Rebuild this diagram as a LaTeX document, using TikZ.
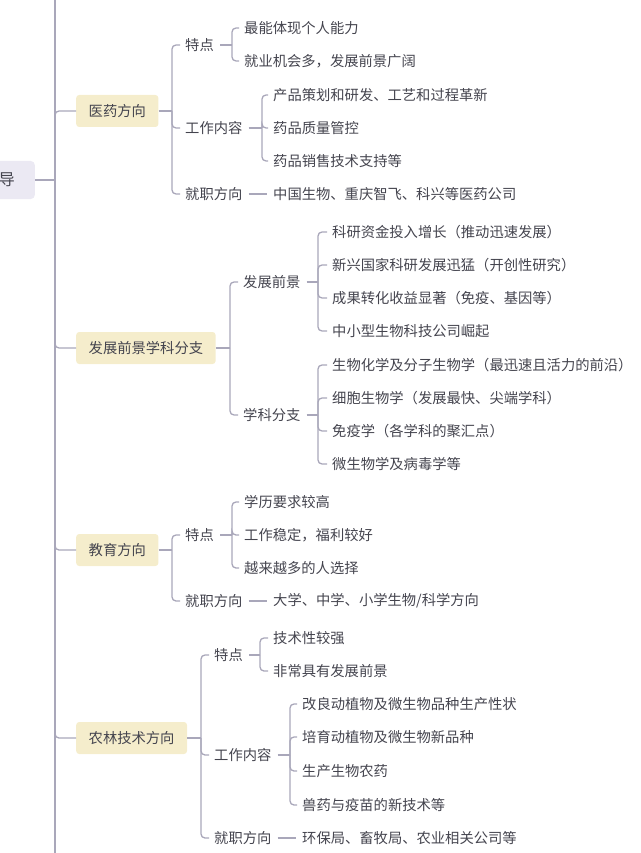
\documentclass[tikz,border=0pt]{standalone}
\usepackage{fontspec}
\newfontfamily\cjk{Noto Sans CJK SC}
\definecolor{lc}{RGB}{169,167,186}
\definecolor{tc}{RGB}{68,68,78}
\definecolor{l1c}{RGB}{245,237,204}
\definecolor{rc}{RGB}{235,233,243}
\newcommand\mytf{\cjk\fontsize{14.3}{17}\selectfont}
\tikzset{
  conn/.style={draw=lc, line width=1.3pt},
  br/.style={conn, rounded corners=4pt},
  tx/.style={anchor=west, inner sep=0pt, font=\mytf, text=tc},
  lone/.style={anchor=west, fill=l1c, rounded corners=3pt, inner xsep=12.5pt, inner ysep=0pt, minimum height=32pt, font=\mytf, text=tc},
  rootbox/.style={anchor=east, fill=rc, rounded corners=4pt, inner xsep=20pt, inner ysep=0pt, minimum height=38pt, font=\cjk\fontsize{16}{19}\selectfont, text=tc}
}
\begin{document}
\begin{tikzpicture}[x=1pt,y=-1pt]
\clip (0,0) rectangle (640,853);
\useasboundingbox (0,0) rectangle (640,853);
% root and main line
\node[rootbox] (root) at (35,180) {导};
\coordinate (mtop) at (55,0);
\coordinate (mbot) at (55,853);
\coordinate (mj) at (55,180);
\draw[conn] (mtop) -- (mbot);
\draw[conn] (root.east) -- (mj);
% level 1
\node[lone] (A) at (76,111) {医药方向};
\node[lone] (B) at (76,348) {发展前景学科分支};
\node[lone] (C) at (76,550) {教育方向};
\node[lone] (D) at (76,738) {农林技术方向};
\foreach \n in {A,B,C,D} \draw[br] (mj) |- (\n.west);

% ---------- A ----------
\coordinate (jA) at (172,111);
\draw[conn] (A.east) -- (jA);
\node[tx] (A1) at (185,45) {特点};
\node[tx] (A2) at (185,128) {工作内容};
\node[tx] (A3) at (185,194) {就职方向};
\foreach \n in {A1,A2,A3} \draw[br] (jA) |- ([xshift=-5pt]\n.west);
\coordinate (jA1) at (232,45);
\draw[conn] ([xshift=6pt]A1.east) -- (jA1);
\node[tx] (A11) at (244,28) {最能体现个人能力};
\node[tx] (A12) at (244,61) {就业机会多，发展前景广阔};
\foreach \n in {A11,A12} \draw[br] (jA1) |- ([xshift=-5pt]\n.west);
\coordinate (jA2) at (262,128);
\draw[conn] ([xshift=6pt]A2.east) -- (jA2);
\node[tx] (A21) at (273,95) {产品策划和研发、工艺和过程革新};
\node[tx] (A22) at (273,128) {药品质量管控};
\node[tx] (A23) at (273,161) {药品销售技术支持等};
\foreach \n in {A21,A22,A23} \draw[br] (jA2) |- ([xshift=-5pt]\n.west);
\node[tx] (A31) at (273,194) {中国生物、重庆智飞、科兴等医药公司};
\draw[conn] ([xshift=6pt]A3.east) -- ([xshift=-6pt]A31.west);

% ---------- B ----------
\coordinate (jB) at (230,348);
\draw[conn] (B.east) -- (jB);
\node[tx] (B1) at (243,282) {发展前景};
\node[tx] (B2) at (243,415) {学科分支};
\foreach \n in {B1,B2} \draw[br] (jB) |- ([xshift=-5pt]\n.west);
\coordinate (jB1) at (318,282);
\draw[conn] ([xshift=6pt]B1.east) -- (jB1);
\node[tx] (B11) at (332,232) {科研资金投入增长（推动迅速发展）};
\node[tx] (B12) at (332,265) {新兴国家科研发展迅猛（开创性研究）};
\node[tx] (B13) at (332,298) {成果转化收益显著（免疫、基因等）};
\node[tx] (B14) at (332,331) {中小型生物科技公司崛起};
\foreach \n in {B11,B12,B13,B14} \draw[br] (jB1) |- ([xshift=-5pt]\n.west);
\coordinate (jB2) at (318,415);
\draw[conn] ([xshift=6pt]B2.east) -- (jB2);
\node[tx] (B21) at (332,365) {生物化学及分子生物学（最迅速且活力的前沿）};
\node[tx] (B22) at (332,398) {细胞生物学（发展最快、尖端学科）};
\node[tx] (B23) at (332,431) {免疫学（各学科的聚汇点）};
\node[tx] (B24) at (332,464) {微生物学及病毒学等};
\foreach \n in {B21,B22,B23,B24} \draw[br] (jB2) |- ([xshift=-5pt]\n.west);

% ---------- C ----------
\coordinate (jC) at (172,550);
\draw[conn] (C.east) -- (jC);
\node[tx] (C1) at (185,535) {特点};
\node[tx] (C2) at (185,601) {就职方向};
\foreach \n in {C1,C2} \draw[br] (jC) |- ([xshift=-5pt]\n.west);
\coordinate (jC1) at (232,535);
\draw[conn] ([xshift=6pt]C1.east) -- (jC1);
\node[tx] (C11) at (244,502) {学历要求较高};
\node[tx] (C12) at (244,535) {工作稳定，福利较好};
\node[tx] (C13) at (244,568) {越来越多的人选择};
\foreach \n in {C11,C12,C13} \draw[br] (jC1) |- ([xshift=-5pt]\n.west);
\node[tx] (C21) at (273,601) {大学、中学、小学生物/科学方向};
\draw[conn] ([xshift=6pt]C2.east) -- ([xshift=-6pt]C21.west);

% ---------- D ----------
\coordinate (jD) at (201,738);
\draw[conn] (D.east) -- (jD);
\node[tx] (D1) at (214,655) {特点};
\node[tx] (D2) at (214,755) {工作内容};
\node[tx] (D3) at (214,838) {就职方向};
\foreach \n in {D1,D2,D3} \draw[br] (jD) |- ([xshift=-5pt]\n.west);
\coordinate (jD1) at (260,655);
\draw[conn] ([xshift=6pt]D1.east) -- (jD1);
\node[tx] (D11) at (273,638) {技术性较强};
\node[tx] (D12) at (273,671) {非常具有发展前景};
\foreach \n in {D11,D12} \draw[br] (jD1) |- ([xshift=-5pt]\n.west);
\coordinate (jD2) at (290,755);
\draw[conn] ([xshift=6pt]D2.east) -- (jD2);
\node[tx] (D21) at (302,704) {改良动植物及微生物品种生产性状};
\node[tx] (D22) at (302,737) {培育动植物及微生物新品种};
\node[tx] (D23) at (302,771) {生产生物农药};
\node[tx] (D24) at (302,805) {兽药与疫苗的新技术等};
\foreach \n in {D21,D22,D23,D24} \draw[br] (jD2) |- ([xshift=-5pt]\n.west);
\node[tx] (D31) at (302,838) {环保局、畜牧局、农业相关公司等};
\draw[conn] ([xshift=6pt]D3.east) -- ([xshift=-6pt]D31.west);
\end{tikzpicture}
\end{document}
